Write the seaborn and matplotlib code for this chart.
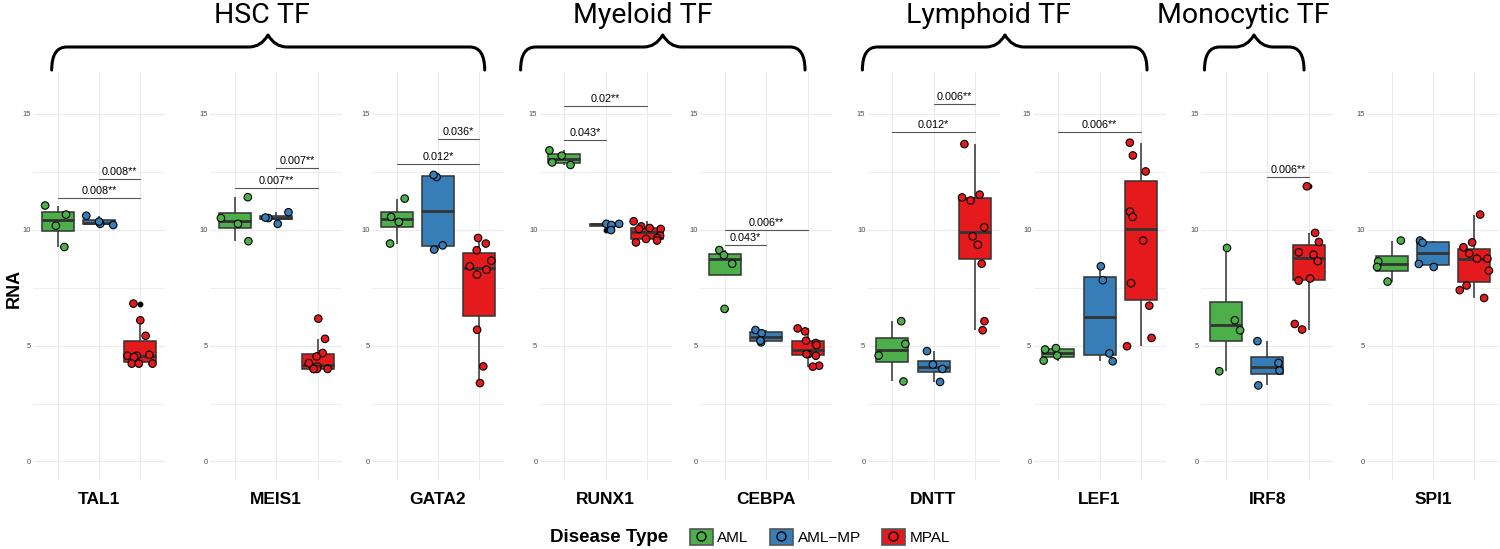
import matplotlib
matplotlib.use("Agg")
import matplotlib.pyplot as plt
from matplotlib.path import Path
from matplotlib.patches import PathPatch, Patch
from matplotlib.lines import Line2D
from matplotlib.legend_handler import HandlerTuple
import numpy as np
import pandas as pd
import seaborn as sns

# --- data ---
genes = ["TAL1", "MEIS1", "GATA2", "RUNX1", "CEBPA", "DNTT", "LEF1", "IRF8", "SPI1"]
disease_types = ["AML", "AML\u2212MP", "MPAL"]
type_colors = ["#4DAF4A", "#377EB8", "#E41A1C"]

aml_rna = {
    "TAL1": [11.04, 10.65, 10.17, 9.25],
    "MEIS1": [11.4, 10.5, 10.25, 9.5],
    "GATA2": [11.34, 10.55, 10.33, 9.4],
    "RUNX1": [13.19, 13.42, 12.9, 12.79],
    "CEBPA": [9.12, 8.9, 8.53, 6.58],
    "DNTT": [6.05, 5.07, 4.57, 3.45],
    "LEF1": [4.35, 4.89, 4.57, 4.83],
    "IRF8": [9.21, 6.09, 5.66, 3.89],
    "SPI1": [9.53, 8.63, 8.39, 7.76],
}
aml_mp_rna = {
    "TAL1": [10.2, 10.25, 10.35, 10.6],
    "MEIS1": [10.5, 10.25, 10.75, 10.52],
    "GATA2": [12.27, 12.36, 9.32, 9.14],
    "RUNX1": [10.25, 10.2, 10.25, 9.98],
    "CEBPA": [5.67, 5.53, 5.14, 5.21],
    "DNTT": [4.76, 4.18, 3.99, 3.43],
    "LEF1": [8.42, 7.82, 4.66, 4.32],
    "IRF8": [5.19, 4.25, 3.92, 3.28],
    "SPI1": [9.53, 9.44, 8.52, 8.39],
}
mpal_rna = {
    "TAL1": [6.81, 6.09, 5.42, 4.6, 4.56, 4.56, 4.5, 4.22, 4.22, 4.22],
    "MEIS1": [6.16, 5.29, 4.68, 4.53, 4.24, 4.1, 3.99, 3.99, 3.99, 3.99],
    "GATA2": [9.64, 9.4, 9.11, 8.66, 8.42, 8.27, 8.06, 5.68, 4.1, 3.38],
    "RUNX1": [10.36, 10.14, 10.07, 10.03, 10.03, 9.74, 9.64, 9.6, 9.53, 9.45],
    "CEBPA": [5.74, 5.61, 5.21, 5.11, 5.02, 4.63, 4.63, 4.56, 4.13, 4.09],
    "DNTT": [13.69, 11.51, 11.39, 11.26, 10.1, 9.71, 9.35, 8.53, 6.05, 5.66],
    "LEF1": [13.75, 13.2, 12.51, 10.78, 10.55, 9.53, 7.69, 6.72, 5.33, 4.97],
    "IRF8": [11.87, 9.86, 9.47, 9.02, 8.92, 8.64, 7.89, 7.8, 5.93, 5.69],
    "SPI1": [10.65, 9.45, 9.24, 8.97, 8.75, 8.75, 8.23, 7.59, 7.39, 7.05],
}

# (gene, group a, group b, bracket height, p-value label)
sig_tests = [
    ("TAL1", 0, 2, 11.37, "0.008**"),
    ("TAL1", 1, 2, 12.19, "0.008**"),
    ("MEIS1", 0, 2, 11.8, "0.007**"),
    ("MEIS1", 1, 2, 12.67, "0.007**"),
    ("GATA2", 0, 2, 12.83, "0.012*"),
    ("GATA2", 1, 2, 13.91, "0.036*"),
    ("RUNX1", 0, 1, 13.88, "0.043*"),
    ("RUNX1", 0, 2, 15.32, "0.02**"),
    ("CEBPA", 0, 1, 9.35, "0.043*"),
    ("CEBPA", 0, 2, 9.99, "0.006**"),
    ("DNTT", 0, 2, 14.21, "0.012*"),
    ("DNTT", 1, 2, 15.43, "0.006**"),
    ("LEF1", 0, 2, 14.21, "0.006**"),
    ("IRF8", 1, 2, 12.28, "0.006**"),
]

tf_groups = ["HSC TF", "Myeloid TF", "Lymphoid TF", "Monocytic TF"]

# --- layout (pixels of the 1500x549 canvas) ---
W, H = 1500, 549
panel_first_cat = [57.7, 235, 396.7, 564.3, 725, 892.3, 1058.3, 1226, 1391.7]
cat_step = 41.3
panel_top, panel_bottom = 72, 480
# brace: start, end, peak, text centre
brace_px = [(51.7, 484.7, 268, 262), (520.6, 805, 662.7, 643),
            (862.4, 1147, 1005, 988), (1204.5, 1304, 1254, 1243)]

rows = []
for gene in genes:
    for t, src in zip(disease_types, [aml_rna, aml_mp_rna, mpal_rna]):
        for v in src[gene]:
            rows.append({"gene": gene, "type": t, "RNA": v})
df = pd.DataFrame(rows)

sns.set_style("white")
plt.rcParams["font.family"] = ["Liberation Sans", "DejaVu Sans"]
plt.rcParams["text.color"] = "black"

fig = plt.figure(figsize=(W / 100, H / 100), dpi=100)
np.random.seed(7)

pal = dict(zip(disease_types, type_colors))
for i, gene in enumerate(genes):
    left = (panel_first_cat[i] - 0.6 * cat_step) / W
    ax = fig.add_axes([left, (H - panel_bottom) / H, 3.2 * cat_step / W,
                       (panel_bottom - panel_top) / H])
    sub = df[df["gene"] == gene]
    sns.boxplot(data=sub, x="type", y="RNA", hue="type", order=disease_types,
                hue_order=disease_types, palette=pal, saturation=1, width=0.77,
                linewidth=1.1, linecolor="#333333", showcaps=False,
                flierprops=dict(marker="o", markersize=3.2, markerfacecolor="black",
                                markeredgecolor="black"),
                medianprops=dict(linewidth=2, color="#333333"),
                legend=False, ax=ax)
    sns.stripplot(data=sub, x="type", y="RNA", hue="type", order=disease_types,
                  hue_order=disease_types, palette=pal, jitter=0.36, size=5.4,
                  linewidth=0.8, edgecolor="black", legend=False, zorder=3, ax=ax)

    for g, a, b, yb, lab in sig_tests:
        if g != gene:
            continue
        ax.plot([a, b], [yb, yb], color="#555555", lw=0.8, zorder=4)
        ax.annotate(lab, ((a + b) / 2, yb), xytext=(0, 1.5), textcoords="offset points",
                    ha="center", va="bottom", fontsize=7.8, color="black")

    ax.set_xlim(-0.6, 2.6)
    ax.set_ylim(-0.8, 16.8)
    ax.set_yticks([0, 5, 10, 15])
    ax.set_yticks([2.5, 7.5, 12.5], minor=True)
    ax.set_xticks([0, 1, 2])
    ax.set_xticklabels(["", gene, ""], fontweight="bold", fontsize=12.5, color="black")
    ax.tick_params(axis="x", length=0, pad=9)
    ax.tick_params(axis="y", which="both", length=0, pad=1.5, labelsize=5.5,
                   labelcolor="#4D4D4D")
    ax.grid(True, which="major", color="#EBEBEB", lw=0.8)
    ax.grid(True, which="minor", axis="y", color="#EBEBEB", lw=0.6)
    ax.set_axisbelow(True)
    for s in ax.spines.values():
        s.set_visible(False)
    ax.set_xlabel("")
    ax.set_ylabel("")

fig.text(14 / W, 1 - 288 / H, "RNA", rotation=90, ha="center", va="center",
         fontsize=13, fontweight="bold")

# braces with group titles
ov = fig.add_axes([0, 0, 1, 1])
ov.set_xlim(0, W)
ov.set_ylim(H, 0)
ov.axis("off")
y_top, y_mid, y_bot = 35, 47, 70
for name, (x0, x1, xp, xt) in zip(tf_groups, brace_px):
    verts = [(x0, y_bot), (x0, y_mid), (x0 + 15, y_mid),
             (xp - 19, y_mid),
             (xp - 7, y_mid), (xp, y_top),
             (xp + 7, y_mid), (xp + 19, y_mid),
             (x1 - 15, y_mid),
             (x1, y_mid), (x1, y_bot)]
    codes = [Path.MOVETO, Path.CURVE3, Path.CURVE3, Path.LINETO,
             Path.CURVE3, Path.CURVE3, Path.CURVE3, Path.CURVE3,
             Path.LINETO, Path.CURVE3, Path.CURVE3]
    ov.add_patch(PathPatch(Path(verts, codes), fill=False, lw=2.2, color="black",
                           capstyle="round", joinstyle="round"))
    ov.text(xt, 23, name, ha="center", va="baseline", fontsize=20.5,
            family=["Roboto", "DejaVu Sans"])

# legend
handles = [(Line2D([], [], color="#333333", lw=1),
            Patch(facecolor=c, edgecolor="#555555", lw=1.2),
            Line2D([], [], linestyle="none", marker="o", markersize=6.5,
                   markerfacecolor=c, markeredgecolor="black"))
           for c in type_colors]
fig.text(668 / W, 1 - 537 / H, "Disease Type", ha="right", va="center",
         fontsize=13.5, fontweight="bold")
fig.legend(handles, disease_types, loc="center left",
           bbox_to_anchor=(676 / W, 1 - 537 / H), ncol=3, frameon=False,
           handler_map={tuple: HandlerTuple(ndivide=1, pad=0)},
           handlelength=1.5, handleheight=1.2, handletextpad=0.3,
           columnspacing=1.4, fontsize=11)

fig.savefig("out.png", dpi=100)
